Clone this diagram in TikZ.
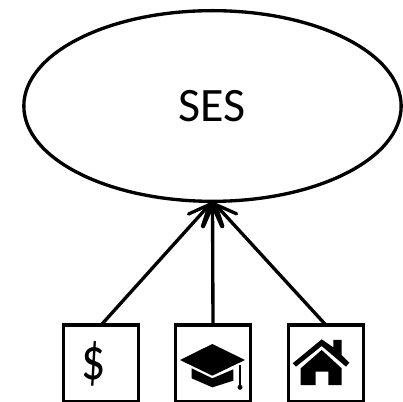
\documentclass[tikz,border=0pt]{standalone}
\usepackage{fontspec}
\setmainfont{Carlito}
\usetikzlibrary{shapes.geometric,arrows.meta}
\tikzset{
  latent/.style={draw=black,ellipse,line width=2.5pt,minimum width=283pt,minimum height=143pt,inner sep=0pt,outer sep=0pt,font=\fontsize{36}{36}\selectfont},
  indicator/.style={draw=black,rectangle,line width=2.5pt,minimum width=56.5pt,minimum height=57.5pt,inner sep=0pt,outer sep=0pt},
  link/.style={line width=2.5pt,-{Straight Barb[length=16pt,width=14pt,line cap=round]}},
  icon/.style={fill=black,draw=none}
}
\begin{document}
\begin{tikzpicture}[x=.75pt,y=-.75pt]
\useasboundingbox (0,0) rectangle (403,402);
\fill[white] (0,0) rectangle (403,402);
\node[latent] (ses) at (212.5,106) {SES};
\begin{scope}
\clip (0,0) rectangle (403,402);
\node[indicator] (income) at (101,363.5) {};
\node[indicator] (edu) at (213,363.5) {};
\node[indicator] (home) at (326,363.5) {};
\end{scope}
\node[font=\fontsize{36}{36}\selectfont,inner sep=0pt,yscale=1.25,transform shape] (dollar) at (94,364) {\$};
\draw[link] (income.north) -- (ses.south);
\draw[link] (home.north) -- (ses.south);
\draw[link] (edu.north) -- (ses.south);
\begin{scope}[shift={(50,310)},x=.25pt,y=-.25pt]
% graduation cap
\fill[icon] (487,102) -- (585,150) -- (487,197) -- (390,150) -- cycle;
\fill[icon] (425,175) -- (487,205) -- (550,178) -- (550,212) -- (487,232) -- (425,205) -- cycle;
\draw[line width=1pt] (570,165) -- (570,232);
\fill[icon] (570,232) circle (7.5);
% house
\fill[icon] (815,88) -- (850,112) -- (850,90) -- (875,90) -- (875,135) -- (898,158) -- (888,170) -- (815,108) -- (738,170) -- (728,160) -- cycle;
\fill[icon] (752,175) -- (815,120) -- (875,175) -- (875,225) -- (835,225) -- (835,185) -- (797,185) -- (797,225) -- (752,225) -- cycle;
\end{scope}
\end{tikzpicture}
\end{document}
